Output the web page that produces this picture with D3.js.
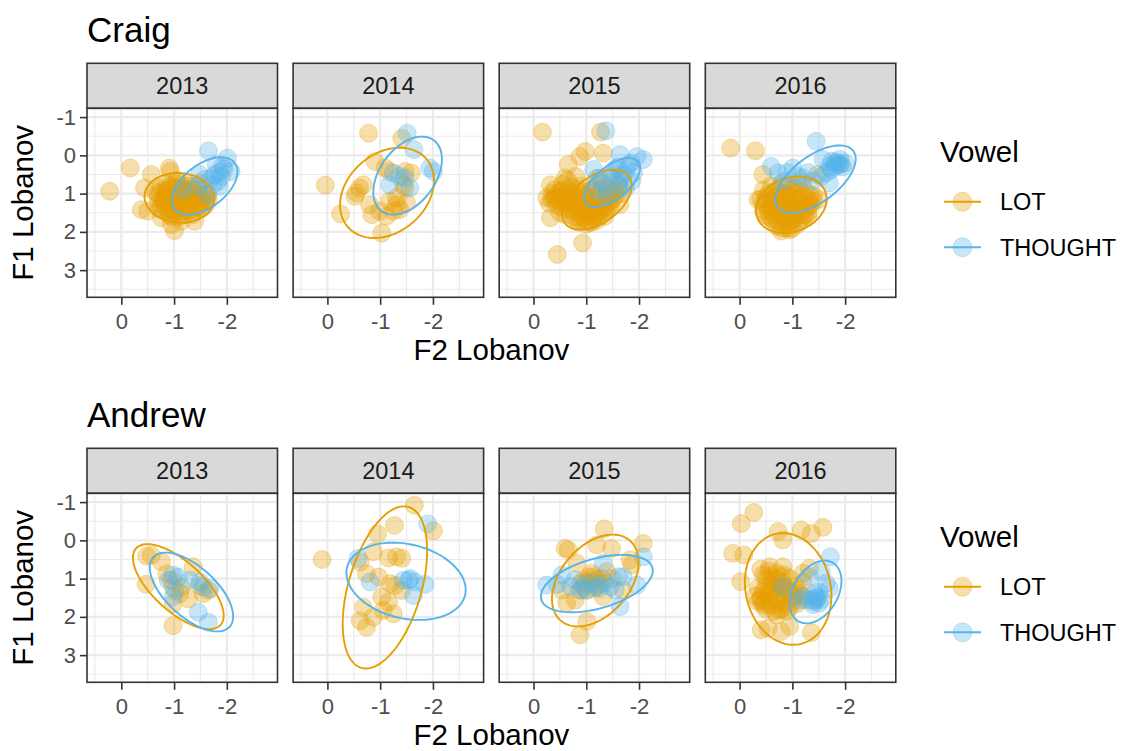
<!DOCTYPE html>
<html>
<head>
<meta charset="utf-8">
<script src="https://cdn.jsdelivr.net/npm/d3@7"></script>
<style>
  body { margin: 0; background: #fff; }
  text { font-family: "Liberation Sans", Arial, sans-serif; }
</style>
</head>
<body>
<div id="chart"></div>
<script>
const speakers = ["Craig", "Andrew"];
const years = ["2013", "2014", "2015", "2016"];
const vowels = ["LOT", "THOUGHT"];
const xTicks = [0, -1, -2];
const yTicks = [-1, 0, 1, 2, 3];

// [F2, F1] Lobanov values
const craig2013Lot = [
  [0.22,0.94],[-0.17,0.33],[-0.57,0.50],[-0.91,0.33],[-0.93,0.42],[-0.44,0.85],[-0.38,1.42],[-0.50,1.46],
  [-0.76,1.63],[-1.01,1.97],[-0.95,1.81],[-1.39,1.72],[-1.14,1.72],[-1.61,1.17],[-1.49,0.73],
  [-0.75,0.85],[-0.85,0.95],[-0.95,0.80],[-1.05,0.90],[-1.15,0.85],[-1.25,0.95],[-1.35,0.90],[-1.45,1.00],
  [-1.55,1.05],[-1.65,1.15],[-0.70,1.10],[-0.80,1.20],[-0.90,1.10],[-1.00,1.05],[-1.10,1.15],[-1.20,1.10],
  [-1.30,1.20],[-1.40,1.15],[-1.50,1.25],[-1.60,1.30],[-0.75,1.35],[-0.85,1.40],[-0.95,1.30],[-1.05,1.35],
  [-1.15,1.45],[-1.25,1.35],[-1.35,1.40],[-1.45,1.35],[-0.65,0.95],[-1.00,1.50],[-1.10,1.60],[-0.90,1.55],
  [-1.20,0.70],[-1.05,0.65],[-0.95,1.20],[-1.15,1.25],[-1.30,1.05],[-0.85,1.05],[-1.40,0.80],[-0.70,1.25],
  [-0.80,0.90],[-0.90,0.85],[-1.00,0.85],[-1.10,0.95],[-1.20,0.90],[-1.30,0.95],[-1.40,1.05],[-1.50,1.10],
  [-0.78,1.15],[-0.88,1.25],[-0.98,1.15],[-1.08,1.05],[-1.18,1.20],[-1.28,1.15],[-1.38,1.25],[-1.48,1.20],
  [-0.82,1.30],[-0.92,1.45],[-1.02,1.25],[-1.12,1.35],[-1.22,1.45],[-1.32,1.30],[-1.42,1.45],[-1.52,1.40],
  [-1.00,1.40],[-1.10,1.50],[-1.20,1.55],[-0.95,1.60],[-1.05,0.75],[-1.15,0.78],[-1.25,0.80],[-0.70,1.00],
  [-1.58,1.20],[-1.62,1.05],[-0.72,1.40],[-1.35,1.55],[-1.45,0.90],[-0.86,0.75],[-1.05,1.00],[-1.15,1.05]
];
const craig2013Thought = [
  [-1.65,-0.12],[-2.01,0.07],[-2.08,0.42],[-1.92,0.29],[-1.80,0.24],[-1.77,0.50],[-1.83,0.68],[-1.86,0.81],
  [-1.74,0.77],[-1.48,0.50],[-1.64,1.03],[-1.17,0.90],[-1.45,0.81],[-1.58,0.63],[-1.85,0.45],[-1.95,0.35],
  [-1.70,0.60],[-1.90,0.55]
];
const craig2014Lot = [
  [-0.78,-0.58],[-1.41,-0.45],[0.04,0.78],[-0.25,1.53],[-1.03,2.03],[-0.90,0.16],[-0.55,0.98],[-0.68,0.77],
  [-0.61,0.85],[-0.52,1.07],[-0.80,1.29],[-0.84,1.55],[-0.99,1.46],[-1.12,1.59],[-1.18,1.20],[-1.31,1.29],
  [-1.37,1.42],[-1.50,1.24],[-1.47,0.42],[-1.59,0.46],[-1.44,0.77],[-1.18,0.42],[-1.31,1.11],[-1.09,0.33],
  [-1.25,1.46],[-1.47,0.85]
];
const craig2014Thought = [
  [-1.51,-0.58],[-1.64,-0.15],[-1.94,0.33],[-2.01,0.42],[-1.25,0.46],[-1.18,0.77],[-1.37,0.55],[-1.56,0.85],
  [-1.47,0.59]
];
const craig2015Lot = [
  [-0.17,-0.61],[-1.27,-0.61],[-0.45,2.59],[-0.93,2.29],[-0.98,-0.10],[-0.88,0.03],[-1.32,-0.06],[-0.66,0.24],
  [-0.32,0.77],[-0.25,1.11],[-0.32,1.63],[-0.60,0.59],[-1.64,1.29],[-1.58,0.68],
  [-0.35,1.00],[-0.40,1.15],[-0.45,1.30],[-0.50,0.95],[-0.55,1.10],[-0.60,1.25],[-0.65,1.40],[-0.70,1.05],
  [-0.75,1.20],[-0.80,1.35],[-0.85,1.50],[-0.90,1.15],[-0.95,1.30],[-1.00,1.45],[-1.05,1.60],[-1.10,1.25],
  [-1.15,1.40],[-1.20,1.55],[-1.25,1.10],[-1.30,1.30],[-1.35,1.45],[-1.40,1.00],[-1.45,1.20],[-1.50,0.90],
  [-1.55,1.05],[-0.70,0.80],[-0.85,0.90],[-1.00,0.95],[-1.15,0.85],[-1.30,0.75],[-0.90,1.70],[-1.00,1.80],
  [-1.10,1.75],[-0.80,1.65],[-1.20,1.70],[-0.60,1.55],[-0.50,1.50],[-0.95,1.00],[-1.05,1.15],[-0.75,1.00],
  [-1.60,0.80],[-1.65,1.00],[-0.30,1.25],[-0.55,0.75],[-1.35,1.60],[-0.65,0.65],[-0.80,0.55],[-1.25,0.60],
  [-1.45,1.35],[-0.40,0.90],
  [-0.40,1.05],[-0.50,1.20],[-0.55,1.35],[-0.65,1.15],[-0.70,1.30],[-0.75,1.45],[-0.85,1.25],[-0.90,1.40],
  [-0.95,1.55],[-1.00,1.20],[-1.05,1.35],[-1.10,1.50],[-1.15,1.65],[-1.20,1.30],[-1.25,1.45],[-1.30,1.20],
  [-1.35,1.35],[-1.40,1.10],[-1.45,1.05],[-1.50,1.15],[-0.60,1.05],[-0.80,1.10],[-1.00,1.05],[-1.20,1.05],
  [-0.85,1.75],[-0.95,1.65],[-1.05,1.75],[-1.15,1.55],[-0.45,1.10],[-0.65,0.95],[-0.90,0.80],[-1.10,0.90],
  [-1.30,0.90],[-1.55,0.95],[-1.65,0.85],[-0.75,1.60],[-1.25,1.60],[-0.35,1.15],[-1.40,1.40],[-0.55,0.90]
];
const craig2015Thought = [
  [-1.37,-0.64],[-1.64,-0.02],[-1.96,0.03],[-2.08,0.11],[-1.80,0.24],[-1.14,0.37],[-1.45,0.55],[-1.61,0.77],
  [-1.86,0.68],[-1.20,0.94],[-1.39,1.03],[-1.70,0.50],[-1.55,0.35],[-1.30,0.70],[-1.75,0.85],
  [-1.50,0.45],[-1.65,0.60],[-1.75,0.40],[-1.85,0.20],[-1.40,0.85],[-1.60,0.30],[-1.90,0.45],[-1.20,0.60]
];
const craig2016Lot = [
  [0.17,-0.19],[-0.30,-0.12],[-0.44,0.50],[-0.35,1.16],[-0.79,1.98],[-1.48,0.50],[-1.32,1.24],
  [-0.45,0.90],[-0.55,1.00],[-0.65,1.10],[-0.75,0.95],[-0.85,1.05],[-0.95,0.90],[-1.05,1.00],[-1.15,1.10],
  [-1.25,0.95],[-1.35,1.05],[-0.50,1.30],[-0.60,1.40],[-0.70,1.25],[-0.80,1.35],[-0.90,1.20],[-1.00,1.30],
  [-1.10,1.40],[-1.20,1.25],[-1.30,1.35],[-1.40,1.20],[-0.55,1.60],[-0.65,1.70],[-0.75,1.55],[-0.85,1.65],
  [-0.95,1.75],[-1.05,1.60],[-1.15,1.70],[-1.25,1.55],[-0.70,1.85],[-0.90,1.90],[-1.00,1.50],[-0.80,0.75],
  [-1.10,0.80],[-0.60,0.80],[-0.40,1.15],[-0.45,1.45],[-1.30,1.60],[-1.50,1.15],[-0.95,1.45],[-1.20,0.70],
  [-0.50,1.10],[-0.60,1.20],[-0.70,1.05],[-0.80,1.15],[-0.90,1.00],[-1.00,1.10],[-1.10,1.20],[-1.20,1.05],
  [-1.30,1.15],[-0.55,1.45],[-0.65,1.55],[-0.75,1.40],[-0.85,1.50],[-0.95,1.35],[-1.05,1.45],[-1.15,1.55],
  [-1.25,1.40],[-1.35,1.30],[-0.60,1.65],[-0.75,1.75],[-0.85,1.80],[-1.00,1.70],[-1.10,1.80],[-1.20,1.65],
  [-0.80,1.90],[-0.95,1.95],[-0.70,0.90],[-0.90,0.80],[-1.05,0.85],[-1.40,1.05],[-0.45,1.25],[-0.50,1.55],
  [-1.30,1.50],[-1.00,1.90]
];
const craig2016Thought = [
  [-1.45,-0.37],[-0.60,0.29],[-0.73,0.46],[-1.01,0.33],[-1.58,0.11],[-1.80,0.20],[-1.89,0.24],[-1.74,0.37],
  [-1.70,0.72],[-1.20,0.59],[-1.39,0.68],[-0.82,0.68],[-1.85,0.25],[-1.95,0.30],[-1.75,0.15],[-1.90,0.10],
  [-2.00,0.20],[-1.80,0.30],[-1.85,0.18],[-1.70,0.28],[-1.92,0.22],[-1.65,0.45],[-1.55,0.55],[-1.30,0.45],
  [-1.10,0.55],[-0.90,0.45]
];
const andrew2013Lot = [
  [-0.48,0.41],[-0.57,0.39],[-0.76,0.56],[-0.47,1.15],[-0.86,0.87],[-0.95,1.04],[-0.98,1.22],[-1.36,0.69],
  [-1.11,1.39],[-1.27,1.53],[-0.98,1.66],[-0.98,2.23],[-1.49,1.18],[-1.65,1.31],[-1.55,1.39],[-1.14,1.22]
];
const andrew2013Thought = [
  [-0.98,0.91],[-1.08,0.96],[-1.30,1.04],[-1.02,1.31],[-1.49,1.09],[-1.55,1.22],[-1.68,1.26],[-1.46,1.88],
  [-1.65,2.14],[-0.98,1.48],[-0.89,1.04]
];
const andrew2014Lot = [
  [0.10,0.50],[-1.65,-0.92],[-1.27,-0.39],[-0.95,-0.17],[-2.01,-0.25],[-0.87,0.30],[-1.16,0.46],[-1.31,0.43],
  [-1.41,0.47],[-0.62,0.56],[-0.74,0.87],[-1.19,1.13],[-1.28,1.18],[-1.41,1.31],[-1.03,1.48],[-0.68,1.75],
  [-0.62,2.10],[-0.74,2.27],[-0.87,2.01],[-1.06,1.83],[-1.25,1.92],[-1.16,1.61],[-0.97,0.96]
];
const andrew2014Thought = [
  [-1.90,-0.43],[-0.58,0.47],[-0.81,1.09],[-1.44,1.04],[-1.57,1.00],[-1.66,1.09],[-1.85,1.15],[-1.63,1.44],
  [-1.54,1.04]
];
const andrew2015Lot = [
  [-1.34,-0.30],[-0.60,0.21],[-0.66,0.25],[-2.08,0.08],[-1.20,0.12],[-1.48,0.21],[-1.83,0.51],[-1.86,0.64],
  [-0.88,2.47],[-1.01,2.12],[-0.63,1.64],[-0.79,1.56],[-1.10,0.86],[-1.20,1.03],[-1.39,0.82],[-1.48,1.00],
  [-1.01,1.30],[-1.32,1.47],[-0.82,0.60],[-1.70,1.30],[-0.88,1.12],[-0.54,1.30],[-1.05,0.95],[-1.25,1.15],
  [-1.15,1.25],[-0.95,1.05],[-1.00,1.10],[-1.30,1.00],[-0.90,1.30],[-1.15,0.95]
];
const andrew2015Thought = [
  [-0.25,1.17],[-0.54,0.90],[-0.79,1.03],[-1.01,1.30],[-1.20,1.21],[-1.45,1.21],[-1.61,0.95],[-1.70,0.95],
  [-2.08,0.43],[-1.64,1.73],[-1.96,1.17],[-1.32,0.60],[-0.88,1.30],[-1.10,1.10],[-0.70,1.20],
  [-1.25,1.25],[-1.35,1.10],[-0.95,1.20],[-1.55,1.30],[-0.45,1.15]
];
const andrew2016Lot = [
  [-0.27,-0.73],[-0.03,-0.44],[-0.73,-0.23],[-0.82,-0.01],[-1.17,-0.27],[-1.36,-0.18],[-1.58,-0.34],[0.13,0.34],
  [-0.08,0.38],[-0.02,1.08],[-0.41,2.34],[-0.54,2.30],[-0.79,2.38],[-1.36,2.41],[-0.95,2.25],[-0.57,0.69],
  [-0.82,0.69],[-0.41,1.47],[-0.44,1.64],[-0.82,1.21],[-1.20,0.86],[-1.32,0.73],[-0.76,1.82],
  [-0.40,0.75],[-0.55,0.80],[-0.70,0.85],[-0.85,0.90],[-0.50,1.00],[-0.65,1.05],[-0.80,1.10],[-0.95,1.00],
  [-0.35,1.25],[-0.45,1.35],[-0.60,1.30],[-0.75,1.40],[-0.90,1.30],[-1.05,1.20],[-0.40,1.55],[-0.55,1.60],
  [-0.70,1.55],[-0.85,1.65],[-1.00,1.50],[-1.15,1.40],[-0.50,1.80],[-0.65,1.85],[-0.80,1.80],[-0.95,1.75],
  [-1.10,1.65],[-1.25,1.55],[-0.60,0.95],[-0.75,1.20],[-1.20,1.10],[-0.30,1.45],
  [-0.45,0.90],[-0.60,1.15],[-0.70,1.00],[-0.85,1.20],[-0.95,1.35],[-0.55,1.40],[-0.70,1.45],[-0.85,1.45],
  [-1.00,1.60],[-0.45,1.70],[-0.60,1.70],[-0.75,1.65],[-0.90,1.85],[-1.05,1.45],[-0.65,1.25],[-0.80,0.95],
  [-0.50,1.20],[-1.10,1.30],[-0.35,1.60],[-0.70,1.95]
];
const andrew2016Thought = [
  [-1.72,0.43],[-1.70,1.25],[-1.64,1.12],[-1.45,1.56],[-1.51,1.64],[-1.39,1.68],[-1.20,1.47],[-0.82,1.21],
  [-1.32,0.95],[-1.55,0.82],[-1.14,1.56],[-1.48,1.50],[-1.42,1.40],[-1.40,1.60],[-1.45,1.50],[-1.35,1.55],
  [-1.55,1.55],[-1.50,1.35]
];

// ellipses per year: [centre F2, centre F1, half-width F2, half-height F1, correlation]
const craigLotEllipse = [[-1.10,1.11,0.66,0.65,-0.05],[-1.13,0.98,0.89,1.18,0.27],[-1.20,1.16,0.66,0.78,0.47],[-0.98,1.29,0.67,0.74,0.20]];
const craigThoughtEllipse = [[-1.58,0.80,0.62,0.75,0.50],[-1.52,0.53,0.65,1.02,0.42],[-1.49,0.71,0.53,0.64,0.60],[-1.44,0.62,0.76,0.88,0.60]];
const andrewLotEllipse = [[-1.08,1.21,0.86,1.11,-0.68],[-1.09,1.23,0.80,2.12,0.45],[-1.17,1.05,0.82,1.20,0.40],[-0.92,1.27,0.82,1.46,-0.12]];
const andrewThoughtEllipse = [[-1.33,1.35,0.79,1.03,-0.62],[-1.49,1.07,1.13,1.01,-0.22],[-1.20,1.13,1.06,0.75,0.45],[-1.44,1.35,0.49,0.82,0.35]];

const pointData = {
  Craig: [[craig2013Lot, craig2013Thought], [craig2014Lot, craig2014Thought], [craig2015Lot, craig2015Thought], [craig2016Lot, craig2016Thought]],
  Andrew: [[andrew2013Lot, andrew2013Thought], [andrew2014Lot, andrew2014Thought], [andrew2015Lot, andrew2015Thought], [andrew2016Lot, andrew2016Thought]]
};
const ellipseData = {
  Craig: [craigLotEllipse, craigThoughtEllipse],
  Andrew: [andrewLotEllipse, andrewThoughtEllipse]
};

const colors = { LOT: '#E69F00', THOUGHT: '#56B4E9' };

const width = 1122, height = 751;
const panelLeft = 87, panelStep = 206.1, panelW = 190.5;
const stripTop = 63.3, stripH = 45, panelTop = 108.3, panelH = 189;
const blockOffset = 385;

const svg = d3.select('#chart').append('svg')
  .attr('width', width)
  .attr('height', height);

const x = d3.scaleLinear().domain([0.65, -2.96]).range([0, panelW]);
const y = d3.scaleLinear().domain([-1.23, 3.71]).range([0, panelH]);

svg.append('defs').append('clipPath')
  .attr('id', 'panelClip')
  .append('rect')
  .attr('width', panelW)
  .attr('height', panelH);

function ellipsePath(e) {
  const [cx, cy, sx, sy, r] = e;
  const s = Math.sqrt(1 - r * r);
  const pts = d3.range(0, 100).map(i => {
    const t = i / 100 * 2 * Math.PI;
    return [cx + sx * Math.cos(t), cy + sy * (r * Math.cos(t) + s * Math.sin(t))];
  });
  return d3.line().x(d => x(d[0])).y(d => y(d[1])).curve(d3.curveLinearClosed)(pts);
}

speakers.forEach((speaker, si) => {
  const oy = si * blockOffset;
  const block = svg.append('g').attr('transform', `translate(0,${oy})`);

  block.append('text')
    .attr('x', panelLeft)
    .attr('y', 42)
    .attr('font-size', 35)
    .attr('fill', '#000')
    .text(speaker);

  years.forEach((year, yi) => {
    const px = panelLeft + yi * panelStep;

    // strip
    block.append('rect')
      .attr('x', px).attr('y', stripTop)
      .attr('width', panelW).attr('height', stripH)
      .attr('fill', '#D9D9D9')
      .attr('stroke', '#333333')
      .attr('stroke-width', 1.6);
    block.append('text')
      .attr('x', px + panelW / 2)
      .attr('y', stripTop + stripH / 2)
      .attr('dy', '0.36em')
      .attr('text-anchor', 'middle')
      .attr('font-size', 23.5)
      .attr('fill', '#1A1A1A')
      .text(year);

    const panel = block.append('g').attr('transform', `translate(${px},${panelTop})`);

    // grid
    const minorX = [0.5, -0.5, -1.5, -2.5];
    const minorY = [-0.5, 0.5, 1.5, 2.5, 3.5];
    panel.selectAll('.minorx').data(minorX).enter().append('line')
      .attr('x1', d => x(d)).attr('x2', d => x(d))
      .attr('y1', 0).attr('y2', panelH)
      .attr('stroke', '#EBEBEB').attr('stroke-width', 1.1);
    panel.selectAll('.minory').data(minorY).enter().append('line')
      .attr('y1', d => y(d)).attr('y2', d => y(d))
      .attr('x1', 0).attr('x2', panelW)
      .attr('stroke', '#EBEBEB').attr('stroke-width', 1.1);
    panel.selectAll('.majorx').data(xTicks).enter().append('line')
      .attr('x1', d => x(d)).attr('x2', d => x(d))
      .attr('y1', 0).attr('y2', panelH)
      .attr('stroke', '#EBEBEB').attr('stroke-width', 2.2);
    panel.selectAll('.majory').data(yTicks).enter().append('line')
      .attr('y1', d => y(d)).attr('y2', d => y(d))
      .attr('x1', 0).attr('x2', panelW)
      .attr('stroke', '#EBEBEB').attr('stroke-width', 2.2);

    const inner = panel.append('g').attr('clip-path', 'url(#panelClip)');

    vowels.forEach((v, vi) => {
      inner.append('g').selectAll('circle')
        .data(pointData[speaker][yi][vi])
        .enter()
        .append('circle')
        .attr('cx', d => x(d[0]))
        .attr('cy', d => y(d[1]))
        .attr('r', 9)
        .attr('fill', colors[v])
        .attr('fill-opacity', 0.33)
        .attr('stroke', colors[v])
        .attr('stroke-opacity', 0.3)
        .attr('stroke-width', 1);
    });

    vowels.forEach((v, vi) => {
      inner.append('path')
        .attr('d', ellipsePath(ellipseData[speaker][vi][yi]))
        .attr('fill', 'none')
        .attr('stroke', colors[v])
        .attr('stroke-width', 1.9);
    });

    panel.append('rect')
      .attr('width', panelW).attr('height', panelH)
      .attr('fill', 'none')
      .attr('stroke', '#333333')
      .attr('stroke-width', 1.6);

    // x axis
    const xAxis = d3.axisBottom(x).tickValues(xTicks).tickSize(7.5).tickPadding(4).tickSizeOuter(0)
      .tickFormat(d => d === 0 ? '0' : '-' + Math.abs(d));
    const gx = panel.append('g').attr('transform', `translate(0,${panelH})`).call(xAxis);
    gx.select('.domain').remove();
    gx.selectAll('line').attr('stroke', '#333333').attr('stroke-width', 1.6);
    gx.selectAll('text')
      .attr('font-size', 22)
      .attr('font-family', '"Liberation Sans", Arial, sans-serif')
      .attr('fill', '#4D4D4D')
      .attr('dy', null)
      .attr('y', 32);

    if (yi === 0) {
      const yAxis = d3.axisLeft(y).tickValues(yTicks).tickSize(7).tickPadding(4).tickSizeOuter(0)
        .tickFormat(d => d < 0 ? '-' + Math.abs(d) : String(d));
      const gy = panel.append('g').call(yAxis);
      gy.select('.domain').remove();
      gy.selectAll('line').attr('stroke', '#333333').attr('stroke-width', 1.6);
      gy.selectAll('text')
        .attr('font-size', 22)
        .attr('font-family', '"Liberation Sans", Arial, sans-serif')
        .attr('fill', '#4D4D4D');
    }
  });

  // axis titles
  block.append('text')
    .attr('x', panelLeft + (3 * panelStep + panelW) / 2)
    .attr('y', 360)
    .attr('text-anchor', 'middle')
    .attr('font-size', 29.5)
    .attr('fill', '#000')
    .text('F2 Lobanov');
  block.append('text')
    .attr('transform', `translate(33,${panelTop + panelH / 2}) rotate(-90)`)
    .attr('text-anchor', 'middle')
    .attr('font-size', 29.5)
    .attr('fill', '#000')
    .text('F1 Lobanov');

  // legend
  const legend = block.append('g');
  legend.append('text')
    .attr('x', 940).attr('y', 162)
    .attr('font-size', 29.5)
    .attr('fill', '#000')
    .text('Vowel');
  vowels.forEach((v, vi) => {
    const ly = 201.7 + vi * 45.6;
    legend.append('line')
      .attr('x1', 944).attr('x2', 981)
      .attr('y1', ly).attr('y2', ly)
      .attr('stroke', colors[v]).attr('stroke-width', 2);
    legend.append('circle')
      .attr('cx', 962.5).attr('cy', ly).attr('r', 9.5)
      .attr('fill', colors[v]).attr('fill-opacity', 0.33)
      .attr('stroke', colors[v]).attr('stroke-opacity', 0.3);
    legend.append('text')
      .attr('x', 1000).attr('y', ly)
      .attr('dy', '0.36em')
      .attr('font-size', 23.5)
      .attr('fill', '#000')
      .text(v);
  });
});
</script>
</body>
</html>
